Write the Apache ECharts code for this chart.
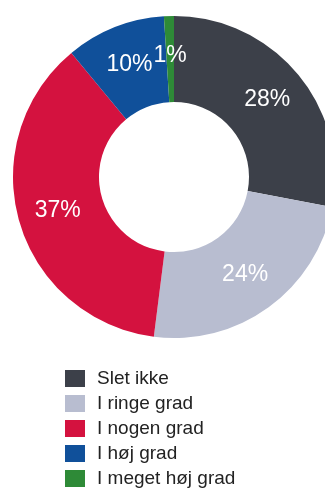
<!DOCTYPE html>
<html>
<head>
<meta charset="utf-8">
<script src="https://cdn.jsdelivr.net/npm/echarts@6/dist/echarts.min.js"></script>
<style>
html,body{margin:0;padding:0;background:#fff;}
#c{width:325px;height:490px;}
</style>
</head>
<body>
<div id="c"></div>
<script>
const categories = ['Slet ikke', 'I ringe grad', 'I nogen grad', 'I høj grad', 'I meget høj grad'];
const values = [28, 24, 37, 10, 1];
const colors = ['#3c4049', '#b8bdd0', '#d4123f', '#10509a', '#2e8a37'];

const chart = echarts.init(document.getElementById('c'), null, {renderer: 'canvas'});
chart.setOption({
  animation: false,
  backgroundColor: '#ffffff',
  color: colors,
  legend: {
    orient: 'vertical',
    left: 65,
    top: 369,
    height: 121,
    padding: 0,
    itemWidth: 20,
    itemHeight: 17,
    itemGap: 6,
    icon: 'rect',
    selectedMode: false,
    textStyle: {
      fontFamily: 'Liberation Sans, Arial, sans-serif',
      fontSize: 19,
      color: '#222222',
      padding: [0, 0, 0, 7]
    },
    data: categories
  },
  series: [{
    type: 'pie',
    center: [174, 177],
    radius: [75, 161],
    startAngle: 90,
    clockwise: true,
    avoidLabelOverlap: false,
    label: {
      show: true,
      position: 'inside',
      formatter: '{c}%',
      color: '#ffffff',
      fontFamily: 'Liberation Sans, Arial, sans-serif',
      fontSize: 23
    },
    labelLine: {show: false},
    labelLayout: {hideOverlap: false},
    emphasis: {disabled: true},
    itemStyle: {borderWidth: 0},
    data: categories.map((n, i) => ({name: n, value: values[i]}))
  }]
});
</script>
</body>
</html>
